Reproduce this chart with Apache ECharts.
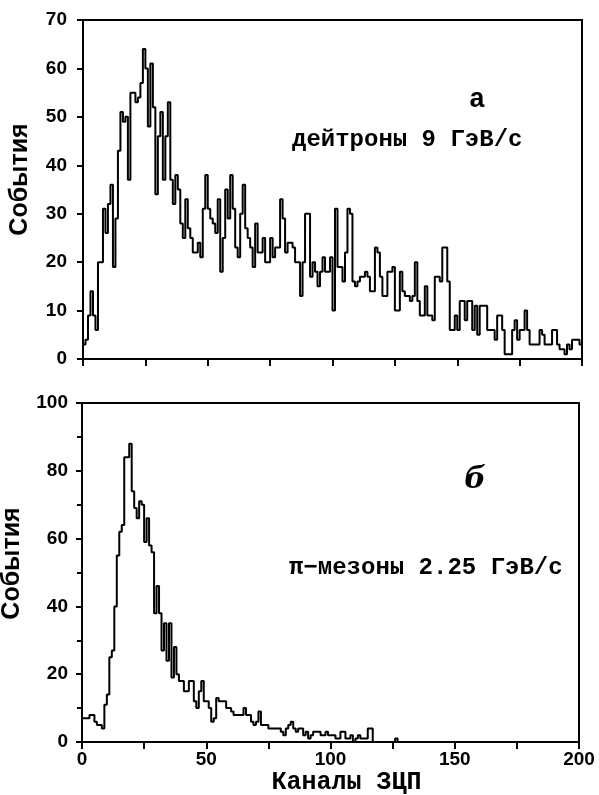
<!DOCTYPE html>
<html><head><meta charset="utf-8">
<script src="https://cdn.jsdelivr.net/npm/echarts@6/dist/echarts.min.js"></script>
<style>html,body{margin:0;padding:0;background:#fff}#c{width:599px;height:795px}</style>
</head><body><div id="c"></div>
<script>
// Panel (а): deuterons 9 GeV/c, counts per channel 0..199
const deuteronCounts = [
 3,4,9,14,9,6,20,20,31,26, 32,36,19,29,43,51,49,50,37,55,
 55,53,54,57,64,60,48,61,52,34, 46,51,37,46,53,37,32,38,35,28,
 25,33,27,25,22,22,24,21,31,38, 31,29,28,26,33,18,25,35,29,38,
 31,23,21,30,36,27,25,23,19,28, 22,22,25,20,20,25,21,23,23,33,
 29,22,24,24,23,20,20,13,20,30, 30,17,20,18,15,18,21,18,18,21,
 10,31,19,19,16,22,31,30,16,15, 16,17,17,18,17,14,14,23,22,17,
 13,13,18,18,19,10,10,18,14,13, 13,12,13,20,12,9,9,15,9,9,
 8,17,17,16,23,23,16,6,6,9, 6,12,12,8,12,12,6,11,5,11,
 11,11,6,6,6,4,9,9,6,1, 1,1,6,8,4,6,6,10,6,3,
 3,3,3,6,5,3,3,3,6,6, 3,2,2,1,3,2,4,4,4,3
];
// Panel (б): pions 2.25 GeV/c, counts per channel 0..127
const pionCounts = [
 7,7,7,8,8,6,5,5,4,11, 14,25,27,40,55,62,64,84,84,88,
 74,69,66,71,70,59,66,58,56,38, 46,38,27,35,24,35,19,28,20,18,
 18,15,15,18,18,12,10,15,18,12, 12,10,6,7,13,12,12,12,10,10,
 9,8,8,8,8,10,8,8,6,5, 6,9,5,5,5,4,4,4,4,4,
 3,2,4,5,6,4,3,4,4,2, 3,1,2,3,3,3,2,2,3,2,
 2,2,1,1,3,3,1,1,2,0, 1,2,1,1,1,4,4,0,0,0,
 0,0,0,0,0,0,1,0
];
const yTitle = 'События';
const xTitle = 'Каналы ЗЦП';
const noteA = 'дейтроны 9 ГэВ/с';
const noteB = 'π−мезоны 2.25 ГэВ/с';
const tagA = 'а';
const tagB = 'б';

function steps(arr){
  const d = [[0,0]];
  arr.forEach((v,i)=>d.push([i,v]));
  d.push([arr.length, arr[arr.length-1]]);
  return d;
}
const black = '#000';
const lblFont = {color: black, fontSize: 19, fontWeight: 'bold', fontFamily: 'Liberation Sans'};
const monoFont = 'bold 24px "Liberation Mono"';

const chart = echarts.init(document.getElementById('c'), null, {renderer:'canvas'});
chart.setOption({
  animation: false,
  backgroundColor: '#fff',
  grid: [
    {left: 83, right: 17, top: 20, height: 339, show: true, borderColor: black, borderWidth: 2,
     backgroundColor: 'transparent', containLabel: false, outerBoundsMode: 'none'},
    {left: 82, right: 20, top: 403, height: 339, show: true, borderColor: black, borderWidth: 2,
     backgroundColor: 'transparent', containLabel: false, outerBoundsMode: 'none'}
  ],
  xAxis: [
    {gridIndex: 0, type: 'value', min: 0, max: 200, interval: 25,
     axisLine: {onZero: false, lineStyle: {color: black, width: 2}},
     axisTick: {length: 7, lineStyle: {color: black, width: 2}},
     axisLabel: {show: false}, splitLine: {show: false}},
    {gridIndex: 1, type: 'value', min: 0, max: 200, interval: 50,
     axisLine: {onZero: false, lineStyle: {color: black, width: 2}},
     axisTick: {length: 7, lineStyle: {color: black, width: 2}},
     minorTick: {show: true, splitNumber: 2, length: 7, lineStyle: {color: black, width: 2}},
     axisLabel: Object.assign({margin: 8}, lblFont), splitLine: {show: false},
     name: xTitle, nameLocation: 'middle', nameGap: 26,
     nameTextStyle: {color: black, fontSize: 25, fontWeight: 'bold', fontFamily: 'Liberation Mono', padding: [0,0,0,32]}}
  ],
  yAxis: [
    {gridIndex: 0, type: 'value', min: 0, max: 70, interval: 10,
     axisLine: {lineStyle: {color: black, width: 2}},
     axisTick: {length: 6, lineStyle: {color: black, width: 2}},
     axisLabel: Object.assign({margin: 16}, lblFont), splitLine: {show: false},
     name: yTitle, nameLocation: 'middle', nameRotate: 90, nameGap: 50,
     nameTextStyle: {color: black, fontSize: 25, fontWeight: 'bold', fontFamily: 'Liberation Sans', padding: [0,0,0,20]}},
    {gridIndex: 1, type: 'value', min: 0, max: 100, interval: 20,
     axisLine: {lineStyle: {color: black, width: 2}},
     axisTick: {length: 6, lineStyle: {color: black, width: 2}},
     minorTick: {show: true, splitNumber: 2, length: 5, lineStyle: {color: black, width: 2}},
     axisLabel: Object.assign({margin: 14}, lblFont), splitLine: {show: false},
     name: yTitle, nameLocation: 'middle', nameRotate: 90, nameGap: 57,
     nameTextStyle: {color: black, fontSize: 25, fontWeight: 'bold', fontFamily: 'Liberation Sans', padding: [0,0,0,18]}}
  ],
  series: [
    {type: 'line', xAxisIndex: 0, yAxisIndex: 0, step: 'end', showSymbol: false,
     data: steps(deuteronCounts), lineStyle: {color: black, width: 2}},
    {type: 'line', xAxisIndex: 1, yAxisIndex: 1, step: 'end', showSymbol: false,
     data: steps(pionCounts), lineStyle: {color: black, width: 2}}
  ],
  graphic: [
    {type: 'text', x: 477, y: 100, style: {text: tagA, font: 'bold 27px "Liberation Mono"', fill: black, align: 'center', verticalAlign: 'middle'}},
    {type: 'text', x: 292, y: 140, style: {text: noteA, font: monoFont, fill: black, align: 'left', verticalAlign: 'middle'}},
    {type: 'text', x: 475, y: 480, style: {text: tagB, font: 'italic bold 30px "DejaVu Serif"', fill: black, align: 'center', verticalAlign: 'middle'}},
    {type: 'text', x: 289, y: 568, style: {text: noteB, font: monoFont, fill: black, align: 'left', verticalAlign: 'middle'}}
  ]
});
</script>
</body></html>
